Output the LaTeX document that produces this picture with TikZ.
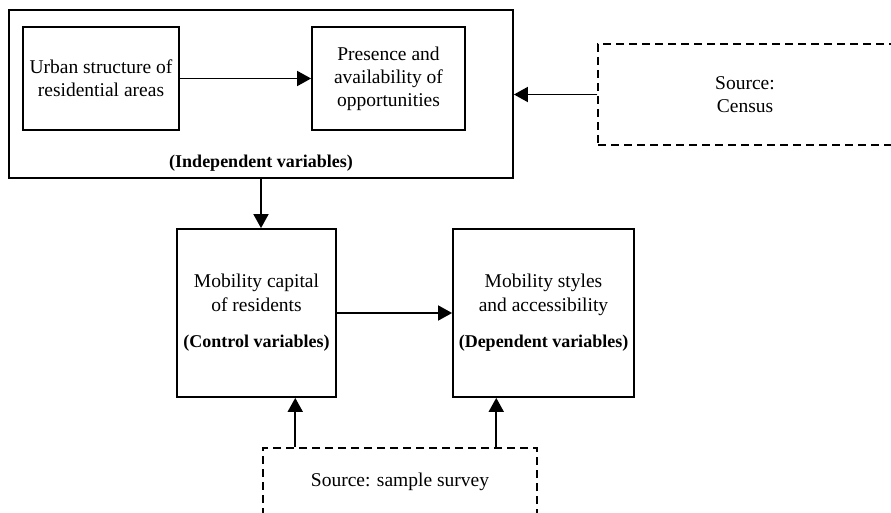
\documentclass[tikz,border=0pt]{standalone}
\usepackage{fontspec}
\setmainfont{Liberation Serif}
\usetikzlibrary{arrows.meta,calc}
\begin{document}
\begin{tikzpicture}[x=1pt,y=-1pt,
  box/.style={draw, line width=1.8pt, inner sep=0pt, align=center, font=\fontsize{19.5}{23}\selectfont},
  mbox/.style={box, font=\fontsize{19.5}{24}\selectfont},
  srcbox/.style={box, dash pattern=on 8pt off 5pt, line width=1.5pt},
  arr/.style={line width=1.8pt, -{Triangle[length=14pt,width=15pt]}},
  bfl/.style={font=\fontsize{18}{22}\selectfont\bfseries}]
\clip (0,0) rectangle (891,513);
\useasboundingbox (0,0) rectangle (891,513);
% top group
\node[box, minimum width=504pt, minimum height=168pt] (outer) at (261,94) {};
\node[box, minimum width=156pt, minimum height=103pt] (urban) at (101,78.5) {Urban structure of\\residential areas};
\node[box, minimum width=153pt, minimum height=103pt] (pres) at (388.5,78.5) {Presence and\\availability of\\opportunities};
\node[bfl] (indep) at (261,163) {(Independent variables)};
\node[srcbox, minimum width=294pt, minimum height=101pt] (census) at (745,94.5) {Source:\\Census};
% middle
\node[mbox, minimum width=159pt, minimum height=168pt] (cap) at (256.5,313) {Mobility capital\\of residents\\[12pt]{\fontsize{18}{22}\selectfont\bfseries (Control variables)}};
\node[mbox, minimum width=181pt, minimum height=168pt] (styles) at (543.5,313) {Mobility styles\\and accessibility\\[12pt]{\fontsize{18}{22}\selectfont\bfseries (Dependent variables)}};
% bottom
\node[srcbox, minimum width=274pt, minimum height=68pt] (survey) at (400,482) {Source: sample survey};
% connectors
\draw[arr] (urban.east) -- (pres.west);
\draw[arr] (census.west) -- (census.west -| outer.east);
\draw[arr] (outer.south) -- (outer.south |- cap.north);
\draw[arr] (cap.east) -- (styles.west);
\path (survey.north west) ++(33,0) coordinate (s1);
\path (survey.north west) ++(234,0) coordinate (s2);
\draw[arr] (s1) -- (s1 |- cap.south);
\draw[arr] (s2) -- (s2 |- styles.south);
\end{tikzpicture}
\end{document}
